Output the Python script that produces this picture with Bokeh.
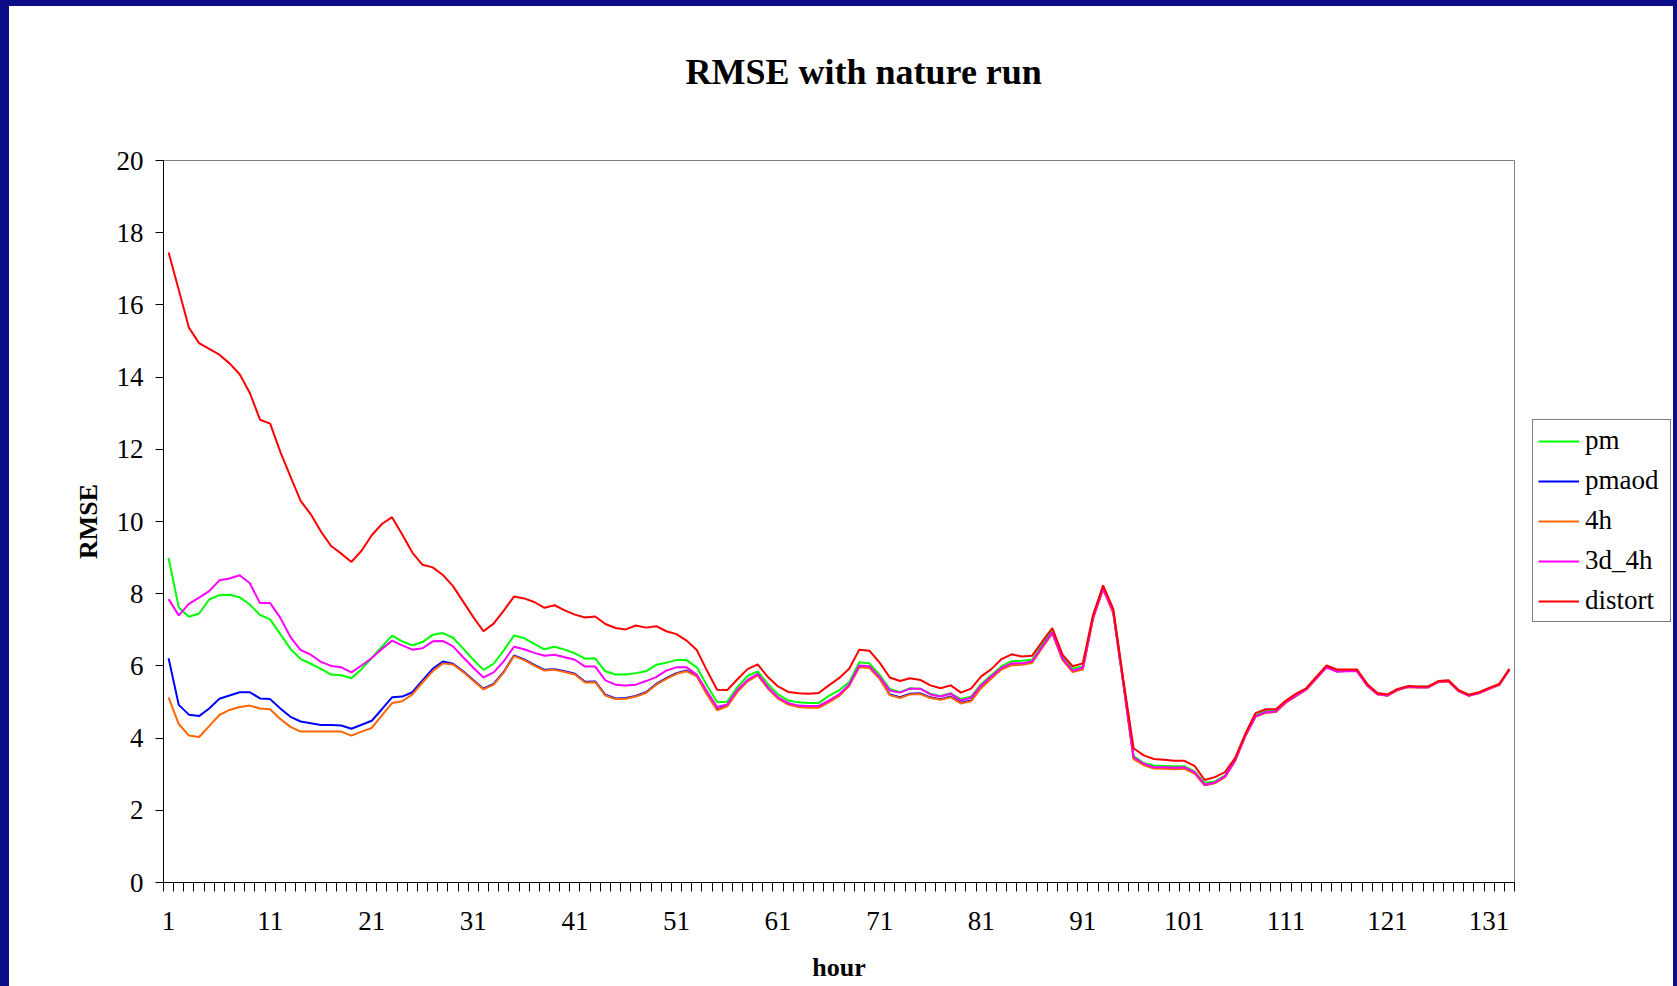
from bokeh.plotting import figure
from bokeh.models import FixedTicker, Legend, LegendItem, Range1d, Spacer
from bokeh.layouts import row, column
from bokeh.embed import file_html
from bokeh.resources import INLINE

hours = list(range(1, 134))

pm = [8.99, 7.62, 7.36, 7.45, 7.84, 7.96, 7.97, 7.90, 7.70, 7.41,
      7.29, 6.88, 6.47, 6.19, 6.06, 5.92, 5.76, 5.74, 5.66, 5.91,
      6.22, 6.53, 6.84, 6.68, 6.57, 6.66, 6.86, 6.91, 6.78, 6.48,
      6.17, 5.89, 6.06, 6.43, 6.84, 6.77, 6.61, 6.46, 6.53, 6.45,
      6.35, 6.20, 6.21, 5.85, 5.76, 5.76, 5.80, 5.85, 6.03, 6.09,
      6.16, 6.16, 5.96, 5.46, 4.99, 5.01, 5.41, 5.72, 5.85, 5.50,
      5.21, 5.04, 4.99, 4.97, 4.97, 5.17, 5.32, 5.55, 6.10, 6.07,
      5.75, 5.36, 5.27, 5.38, 5.37, 5.23, 5.17, 5.24, 5.08, 5.15,
      5.50, 5.75, 5.99, 6.13, 6.14, 6.17, 6.59, 7.00, 6.26, 5.92,
      5.99, 7.36, 8.19, 7.53, 5.55, 3.50, 3.31, 3.24, 3.23, 3.22,
      3.22, 3.08, 2.76, 2.80, 2.96, 3.40, 4.08, 4.63, 4.75, 4.76,
      5.01, 5.19, 5.36, 5.68, 5.98, 5.88, 5.88, 5.88, 5.48, 5.23,
      5.19, 5.35, 5.43, 5.42, 5.42, 5.57, 5.59, 5.32, 5.19, 5.26,
      5.38, 5.49, 5.91]

pmaod = [6.21, 4.92, 4.65, 4.61, 4.82, 5.09, 5.18, 5.27, 5.27, 5.10,
         5.08, 4.82, 4.59, 4.46, 4.41, 4.36, 4.36, 4.35, 4.26, 4.37,
         4.48, 4.80, 5.13, 5.15, 5.27, 5.60, 5.92, 6.12, 6.06, 5.85,
         5.61, 5.37, 5.50, 5.84, 6.29, 6.18, 6.03, 5.89, 5.91, 5.85,
         5.78, 5.56, 5.57, 5.20, 5.10, 5.11, 5.17, 5.27, 5.50, 5.66,
         5.80, 5.87, 5.73, 5.23, 4.79, 4.90, 5.30, 5.59, 5.76, 5.39,
         5.11, 4.95, 4.88, 4.86, 4.86, 5.01, 5.18, 5.46, 5.98, 5.96,
         5.66, 5.21, 5.13, 5.23, 5.24, 5.13, 5.08, 5.15, 4.98, 5.04,
         5.41, 5.67, 5.92, 6.04, 6.05, 6.10, 6.52, 6.92, 6.19, 5.85,
         5.92, 7.32, 8.14, 7.48, 5.50, 3.45, 3.27, 3.18, 3.17, 3.16,
         3.17, 3.04, 2.70, 2.76, 2.93, 3.38, 4.06, 4.60, 4.71, 4.73,
         4.99, 5.17, 5.35, 5.66, 5.97, 5.85, 5.86, 5.86, 5.46, 5.22,
         5.18, 5.34, 5.42, 5.41, 5.41, 5.56, 5.58, 5.31, 5.18, 5.25,
         5.37, 5.48, 5.90]

h4 = [5.13, 4.39, 4.07, 4.03, 4.33, 4.64, 4.78, 4.86, 4.90, 4.82,
      4.80, 4.53, 4.31, 4.18, 4.18, 4.18, 4.18, 4.18, 4.07, 4.18,
      4.28, 4.63, 4.97, 5.02, 5.21, 5.54, 5.85, 6.07, 6.04, 5.83,
      5.59, 5.35, 5.48, 5.82, 6.27, 6.16, 6.01, 5.87, 5.89, 5.83,
      5.76, 5.54, 5.55, 5.18, 5.08, 5.09, 5.15, 5.25, 5.48, 5.64,
      5.78, 5.85, 5.71, 5.21, 4.77, 4.88, 5.28, 5.57, 5.74, 5.37,
      5.09, 4.93, 4.86, 4.84, 4.84, 4.99, 5.16, 5.44, 5.96, 5.94,
      5.64, 5.19, 5.11, 5.21, 5.22, 5.11, 5.06, 5.13, 4.96, 5.02,
      5.39, 5.65, 5.90, 6.02, 6.03, 6.08, 6.50, 6.90, 6.17, 5.83,
      5.90, 7.30, 8.12, 7.46, 5.48, 3.42, 3.25, 3.16, 3.15, 3.14,
      3.15, 3.02, 2.69, 2.75, 2.92, 3.37, 4.05, 4.59, 4.70, 4.72,
      4.98, 5.16, 5.34, 5.65, 5.96, 5.86, 5.86, 5.86, 5.45, 5.21,
      5.17, 5.33, 5.41, 5.40, 5.40, 5.55, 5.57, 5.30, 5.17, 5.24,
      5.36, 5.47, 5.89]

d3_4h = [7.85, 7.40, 7.72, 7.89, 8.07, 8.37, 8.42, 8.51, 8.29, 7.74,
         7.74, 7.33, 6.80, 6.44, 6.31, 6.11, 6.00, 5.96, 5.82, 6.01,
         6.22, 6.47, 6.70, 6.57, 6.45, 6.49, 6.68, 6.69, 6.54, 6.24,
         5.95, 5.68, 5.82, 6.13, 6.53, 6.46, 6.36, 6.28, 6.31, 6.24,
         6.17, 5.98, 5.98, 5.60, 5.48, 5.46, 5.48, 5.58, 5.69, 5.87,
         5.96, 5.96, 5.76, 5.30, 4.86, 4.93, 5.34, 5.61, 5.78, 5.41,
         5.13, 4.97, 4.90, 4.89, 4.89, 5.04, 5.21, 5.48, 6.01, 5.99,
         5.69, 5.32, 5.26, 5.37, 5.37, 5.21, 5.15, 5.23, 5.04, 5.12,
         5.46, 5.71, 5.95, 6.07, 6.07, 6.13, 6.53, 6.93, 6.20, 5.87,
         5.95, 7.33, 8.15, 7.50, 5.52, 3.47, 3.29, 3.19, 3.19, 3.18,
         3.19, 3.06, 2.71, 2.77, 2.94, 3.39, 4.07, 4.60, 4.72, 4.74,
         5.00, 5.18, 5.35, 5.66, 5.96, 5.84, 5.85, 5.85, 5.46, 5.22,
         5.18, 5.34, 5.42, 5.41, 5.41, 5.56, 5.58, 5.31, 5.18, 5.25,
         5.37, 5.48, 5.90]

distort = [17.45, 16.42, 15.37, 14.94, 14.78, 14.62, 14.38, 14.08, 13.56, 12.82,
           12.71, 11.93, 11.24, 10.57, 10.20, 9.72, 9.32, 9.11, 8.88, 9.19,
           9.62, 9.93, 10.12, 9.64, 9.14, 8.80, 8.73, 8.52, 8.21, 7.78,
           7.35, 6.96, 7.17, 7.53, 7.92, 7.87, 7.77, 7.61, 7.68, 7.54,
           7.42, 7.34, 7.37, 7.16, 7.05, 7.01, 7.12, 7.06, 7.10, 6.96,
           6.88, 6.70, 6.44, 5.87, 5.34, 5.33, 5.63, 5.91, 6.04, 5.69,
           5.43, 5.28, 5.24, 5.23, 5.25, 5.46, 5.66, 5.92, 6.45, 6.42,
           6.09, 5.68, 5.58, 5.66, 5.61, 5.46, 5.38, 5.46, 5.26, 5.37,
           5.71, 5.91, 6.19, 6.32, 6.26, 6.28, 6.67, 7.05, 6.31, 5.99,
           6.07, 7.40, 8.23, 7.58, 5.60, 3.72, 3.52, 3.42, 3.40, 3.37,
           3.37, 3.23, 2.84, 2.92, 3.06, 3.45, 4.12, 4.69, 4.80, 4.80,
           5.04, 5.23, 5.38, 5.70, 6.01, 5.90, 5.90, 5.90, 5.50, 5.25,
           5.21, 5.36, 5.44, 5.43, 5.43, 5.58, 5.60, 5.33, 5.20, 5.27,
           5.39, 5.50, 5.92]

series_names = ["pm", "pmaod", "4h", "3d_4h", "distort"]
series_colors = ["#00ff00", "#0000ff", "#ff6600", "#ff00ff", "#ff0000"]
series_values = [pm, pmaod, h4, d3_4h, distort]
x_tick_labels = list(range(1, 134, 10))
y_ticks = list(range(0, 21, 2))

FONT = "Liberation Serif"
NAVY = "#0c0c88"

# ---------------- main chart ----------------
p = figure(width=1511, height=980, output_backend="svg", toolbar_location=None,
           x_range=Range1d(0.5, 133.5), y_range=Range1d(0, 20),
           min_border_left=154, min_border_right=6,
           min_border_top=154, min_border_bottom=104,
           background_fill_color="white", border_fill_color="white")

for name, ys, col in zip(series_names, series_values, series_colors):
    p.line(hours, ys, line_color=col, line_width=2)

p.xgrid.visible = False
p.ygrid.visible = False
p.outline_line_color = "#808080"
p.outline_line_width = 1

# title (second, empty line lifts it to its place)
p.title.text = "RMSE with nature run\n"
p.title.text_font = FONT
p.title.text_font_size = "36px"
p.title.text_font_style = "bold"
p.title.text_color = "black"
p.title.align = "left"
p.title.offset = 522
p.title.standoff = 57

# x axis
xa = p.xaxis[0]
xa.ticker = FixedTicker(ticks=x_tick_labels,
                        minor_ticks=[h - 0.5 for h in hours] + [133.5])
xa.major_tick_out = 0
xa.major_tick_in = 0
xa.minor_tick_out = 9
xa.minor_tick_in = 0
xa.minor_tick_line_color = "black"
xa.axis_line_color = "black"
xa.major_label_text_font = FONT
xa.major_label_text_font_size = "27px"
xa.major_label_text_color = "black"
xa.major_label_standoff = 20
xa.axis_label = "hour"
xa.axis_label_text_font = FONT
xa.axis_label_text_font_size = "26px"
xa.axis_label_text_font_style = "bold"
xa.axis_label_text_color = "black"
xa.axis_label_standoff = 20

# y axis
ya = p.yaxis[0]
ya.ticker = FixedTicker(ticks=y_ticks, minor_ticks=[])
ya.major_tick_out = 8
ya.major_tick_in = 0
ya.minor_tick_out = 0
ya.minor_tick_in = 0
ya.major_tick_line_color = "black"
ya.axis_line_color = "black"
ya.major_label_text_font = FONT
ya.major_label_text_font_size = "27px"
ya.major_label_text_color = "black"
ya.major_label_standoff = 12
ya.axis_label = "RMSE"
ya.axis_label_text_font = FONT
ya.axis_label_text_font_size = "26px"
ya.axis_label_text_font_style = "bold"
ya.axis_label_text_color = "black"
ya.axis_label_standoff = 11

# ---------------- legend panel ----------------
# same series drawn out of view, only to key the legend
lp = figure(width=153, height=980, output_backend="svg", toolbar_location=None,
            x_axis_type=None, y_axis_type=None,
            x_range=Range1d(-20, -10), y_range=Range1d(0, 20),
            min_border=0, background_fill_color="white", border_fill_color="white")
lp.outline_line_color = None
lp.xgrid.visible = False
lp.ygrid.visible = False
keys = [lp.line(hours, ys, line_color=col, line_width=2)
        for ys, col in zip(series_values, series_colors)]

legend = Legend(items=[LegendItem(label=n, renderers=[r]) for n, r in zip(series_names, keys)],
                location=(12, 260))
legend.border_line_color = "black"
legend.border_line_width = 1
legend.background_fill_color = "white"
legend.background_fill_alpha = 1
legend.label_text_font = FONT
legend.label_text_font_size = "27px"
legend.label_text_color = "black"
legend.glyph_width = 41
legend.glyph_height = 30
legend.label_height = 30
legend.label_width = 80
legend.spacing = 9
legend.padding = 5
legend.label_standoff = 6
legend.margin = 0
lp.add_layout(legend)

# ---------------- page frame ----------------
top_bar = Spacer(width=1677, height=6, styles={"background-color": NAVY})
left_bar = Spacer(width=9, height=980, styles={"background-color": NAVY})
right_bar = Spacer(width=4, height=980, styles={"background-color": NAVY})
page = column(top_bar, row(left_bar, p, lp, right_bar))

open("out.html", "w").write(file_html(page, INLINE))
